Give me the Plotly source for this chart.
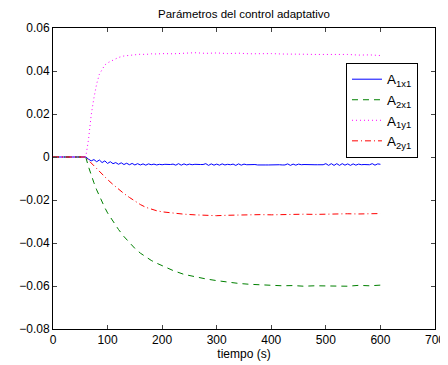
import plotly.graph_objects as go

# --- data ---
t_slow = [0, 60, 65, 70, 75, 80, 85, 90, 95, 100, 110, 120, 130, 140, 150, 160, 170, 180,
          190, 200, 220, 240, 260, 280, 300, 320, 340, 360, 380, 400, 420, 440, 460, 480,
          500, 520, 540, 560, 580, 600]

a2x1 = [0, 0, -0.0045, -0.0085, -0.0120, -0.0153, -0.0182, -0.0210, -0.0236, -0.0260,
        -0.0300, -0.0337, -0.0370, -0.0400, -0.0425, -0.0447, -0.0465, -0.0481, -0.0494,
        -0.0506, -0.0528, -0.0546, -0.0557, -0.0567, -0.0575, -0.0582, -0.0588, -0.0592,
        -0.0595, -0.0597, -0.0599, -0.0598, -0.0601, -0.0599, -0.0600, -0.0598, -0.0601,
        -0.0597, -0.0599, -0.0596]

a1y1 = [0, 0, 0.0080, 0.0195, 0.0275, 0.0340, 0.0385, 0.0410, 0.0428, 0.0438, 0.0452,
        0.0463, 0.0470, 0.0473, 0.0476, 0.0478, 0.0477, 0.0480, 0.0479, 0.0481, 0.0480,
        0.0483, 0.0485, 0.0482, 0.0484, 0.0481, 0.0483, 0.0480, 0.0482, 0.0481, 0.0479,
        0.0480, 0.0478, 0.0477, 0.0478, 0.0476, 0.0477, 0.0474, 0.0475, 0.0472]

a2y1 = [0, 0, -0.0015, -0.0028, -0.0042, -0.0055, -0.0068, -0.0082, -0.0093, -0.0105,
        -0.0128, -0.0150, -0.0170, -0.0188, -0.0205, -0.0221, -0.0234, -0.0243, -0.0250,
        -0.0255, -0.0262, -0.0266, -0.0269, -0.0271, -0.0273, -0.0271, -0.0269, -0.0270,
        -0.0268, -0.0269, -0.0267, -0.0268, -0.0266, -0.0267, -0.0265, -0.0266, -0.0264,
        -0.0265, -0.0264, -0.0263]

t_fast = [0, 60, 65, 70, 75, 80, 85, 90, 95, 100, 105, 110, 115, 120, 125, 130, 135, 140,
          145, 150, 155, 160, 165, 170, 175, 180, 185, 190, 195, 200, 205, 210, 215, 220,
          225, 230, 235, 240, 245, 250, 255, 260, 265, 270, 275, 280, 285, 290, 295, 300,
          305, 310, 315, 320, 325, 330, 335, 340, 345, 350, 355, 360, 365, 370, 375, 380,
          385, 390, 395, 400, 405, 410, 415, 420, 425, 430, 435, 440, 445, 450, 455, 460,
          465, 470, 475, 480, 485, 490, 495, 500, 505, 510, 515, 520, 525, 530, 535, 540,
          545, 550, 555, 560, 565, 570, 575, 580, 585, 590, 595, 600]

a1x1 = [0, 0, -0.0010, -0.0018, -0.0012, -0.0022, -0.0014, -0.0026, -0.0018, -0.0030,
        -0.0022, -0.0031, -0.0026, -0.0034, -0.0027, -0.0035, -0.0029, -0.0036, -0.0030,
        -0.0037, -0.0031, -0.0037, -0.0032, -0.0038, -0.0032, -0.0036, -0.0033, -0.0037,
        -0.0034, -0.0036, -0.0034, -0.0036, -0.0035, -0.0033, -0.0038, -0.0031, -0.0038,
        -0.0032, -0.0037, -0.0033, -0.0036, -0.0034, -0.0036, -0.0035, -0.0035, -0.0031,
        -0.0039, -0.0032, -0.0038, -0.0033, -0.0038, -0.0032, -0.0037, -0.0034, -0.0036,
        -0.0033, -0.0039, -0.0032, -0.0038, -0.0033, -0.0036, -0.0035, -0.0036, -0.0035,
        -0.0037, -0.0036, -0.0037, -0.0037, -0.0037, -0.0036, -0.0037, -0.0037, -0.0036,
        -0.0037, -0.0037, -0.0032, -0.0039, -0.0033, -0.0038, -0.0033, -0.0036, -0.0035,
        -0.0036, -0.0036, -0.0037, -0.0036, -0.0036, -0.0037, -0.0036, -0.0031, -0.0039,
        -0.0031, -0.0039, -0.0031, -0.0039, -0.0031, -0.0038, -0.0032, -0.0039, -0.0032,
        -0.0038, -0.0033, -0.0036, -0.0035, -0.0036, -0.0036, -0.0031, -0.0038, -0.0032,
        -0.0034]

x_ticks = [0, 100, 200, 300, 400, 500, 600, 700]
y_ticks = [-0.08, -0.06, -0.04, -0.02, 0, 0.02, 0.04, 0.06]
y_labels = ["\u22120.08", "\u22120.06", "\u22120.04", "\u22120.02", "0", "0.02", "0.04", "0.06"]

fig = go.Figure()
fig.add_trace(go.Scatter(x=t_fast, y=a1x1, mode="lines", name="A<sub>1x1</sub>",
                         line=dict(color="#0000ff", width=1)))
fig.add_trace(go.Scatter(x=t_slow, y=a2x1, mode="lines", name="A<sub>2x1</sub>",
                         line=dict(color="#008000", width=1, dash="6px,5px")))
fig.add_trace(go.Scatter(x=t_slow, y=a1y1, mode="lines", name="A<sub>1y1</sub>",
                         line=dict(color="#ff00ff", width=1, dash="1px,3px")))
fig.add_trace(go.Scatter(x=t_slow, y=a2y1, mode="lines", name="A<sub>2y1</sub>",
                         line=dict(color="#ff0000", width=1, dash="6px,3px,1px,3px")))

# page body has an 8px default margin, so the figure is sized to fit inside it
font = "Liberation Sans, Arial, Helvetica, sans-serif"
fig.update_layout(
    width=440, height=357,
    margin=dict(l=45, r=13, t=20, b=36),
    paper_bgcolor="white", plot_bgcolor="white",
    font=dict(family=font, size=12, color="black"),
    title=dict(text="Parámetros del control adaptativo", x=0.5, xref="paper",
               xanchor="center", y=1, yref="container", yanchor="top",
               pad=dict(t=2, b=0),
               font=dict(size=11.5, family=font)),
    showlegend=True,
    legend=dict(x=0.767, y=0.884, xanchor="left", yanchor="top",
                bordercolor="black", borderwidth=1, bgcolor="white",
                font=dict(size=13.5, family=font), tracegroupgap=0,
                itemwidth=30),
)
fig.update_xaxes(range=[0, 700], tickvals=x_ticks, ticks="inside", ticklen=4,
                 showline=True, linecolor="black", linewidth=1, mirror="ticks",
                 showgrid=False, zeroline=False, automargin=False,
                 tickfont=dict(size=12),
                 title=dict(text="tiempo (s)", standoff=2, font=dict(size=12)))
fig.update_yaxes(range=[-0.08, 0.06], tickvals=y_ticks, ticktext=y_labels,
                 ticks="inside", ticklen=4, automargin=False,
                 tickfont=dict(size=12),
                 showline=True, linecolor="black", linewidth=1, mirror="ticks",
                 showgrid=False, zeroline=False)

fig.write_html("out.html")
